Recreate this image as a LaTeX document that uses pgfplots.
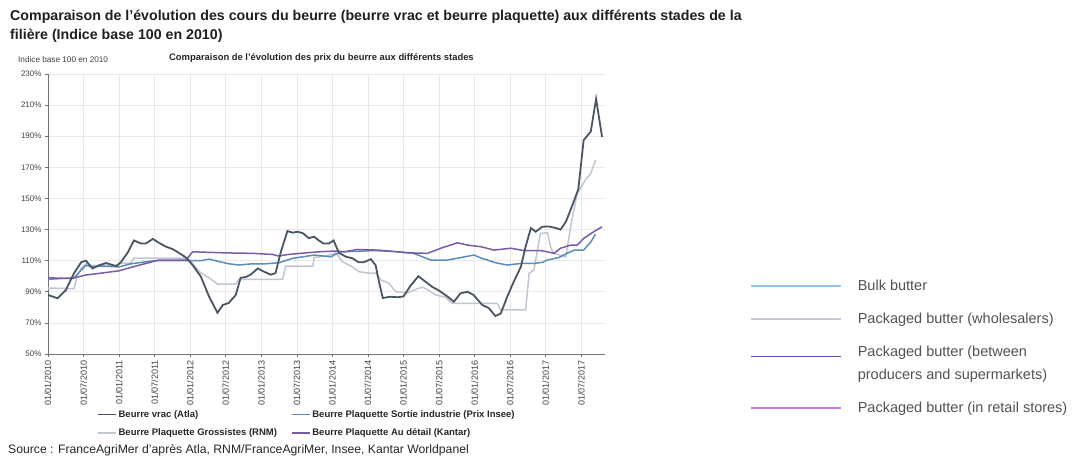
\documentclass[border=0pt]{standalone}
\usepackage{fontspec}
\setmainfont{Liberation Sans}
\usepackage{pgfplots}
\pgfplotsset{compat=1.18}
\definecolor{cvrac}{HTML}{4A5563}
\definecolor{cinsee}{HTML}{5B8DB8}
\definecolor{crnm}{HTML}{C0C6D2}
\definecolor{ckantar}{HTML}{7A5BA8}
\definecolor{lbulk}{HTML}{8CC3E6}
\definecolor{lwhole}{HTML}{C9C9D6}
\definecolor{lprod}{HTML}{5A4FA6}
\definecolor{lretail}{HTML}{C77FE3}
\begin{document}
\begin{tikzpicture}
\path[use as bounding box] (0pt,0pt) rectangle (1082pt,456pt);
\node[anchor=base west, inner sep=0pt, font=\bfseries\fontsize{14.2}{17}\selectfont, text=black!88] at (10pt,435pt) {Comparaison de l'évolution des cours du beurre (beurre vrac et beurre plaquette) aux différents stades de la};
\node[anchor=base west, inner sep=0pt, font=\bfseries\fontsize{14.2}{17}\selectfont, text=black!88] at (10pt,416pt) {filière (Indice base 100 en 2010)};
\node[anchor=base west, inner sep=0pt, font=\fontsize{8.2}{10}\selectfont, text=black!75] at (18pt,393pt) {Indice base 100 en 2010};
\node[anchor=base west, inner sep=0pt, font=\bfseries\fontsize{9.4}{11}\selectfont, text=black!85] at (169pt,395pt) {Comparaison de l'évolution des prix du beurre aux différents stades};
\node[anchor=base west, inner sep=0pt, font=\fontsize{12.2}{14}\selectfont, text=black!85] at (8pt,3pt) {Source : FranceAgriMer d'après Atla, RNM/FranceAgriMer, Insee, Kantar Worldpanel};

\begin{axis}[
  at={(48pt,102pt)}, anchor=south west,
  scale only axis, width=557pt, height=280pt,
  xmin=0, xmax=94, ymin=50, ymax=230,
  xtick={0,6,...,90},
  xticklabels={01/01/2010,01/07/2010,01/01/2011,01/07/2011,01/01/2012,01/07/2012,01/01/2013,01/07/2013,01/01/2014,01/07/2014,01/01/2015,01/07/2015,01/01/2016,01/07/2016,01/01/2017,01/07/2017},
  x tick label style={rotate=90, anchor=east, font=\fontsize{9}{10}\selectfont, text=black!75},
  ytick={50,70,...,230},
  yticklabels={50\%,70\%,90\%,110\%,130\%,150\%,170\%,190\%,210\%,230\%},
  y tick label style={font=\fontsize{8}{9}\selectfont, text=black!75},
  grid=major, major grid style={draw=black!9, line width=0.7pt},
  axis x line*=bottom, axis y line*=left,
  axis line style={draw=black!55, line width=0.9pt},
  tick style={draw=black!55, line width=0.6pt},
  major tick length=3pt, tick align=outside,
  legend columns=2,
  legend cell align=left,
  legend style={at={(0.088,-0.194)}, anchor=north west, draw=none, fill=none,
    inner sep=0pt,
    font=\bfseries\fontsize{9.5}{11}\selectfont, text=black!85,
    /tikz/every even column/.append style={column sep=12pt}, row sep=6pt},
  legend image code/.code={\draw[#1] (0pt,0pt) -- (18pt,0pt);},
]
\addlegendimage{cvrac, line width=1.4pt}
\addlegendentry{Beurre vrac (Atla)}
\addlegendimage{cinsee, line width=1.4pt}
\addlegendentry{Beurre Plaquette Sortie industrie (Prix Insee)}
\addlegendimage{crnm, line width=1.4pt}
\addlegendentry{Beurre Plaquette Grossistes (RNM)}
\addlegendimage{ckantar, line width=1.4pt}
\addlegendentry{Beurre Plaquette Au détail (Kantar)}

% Grossistes (RNM)
\addplot[crnm, line width=1.5pt, forget plot] coordinates {
(0,92.4)(4.4,92)(4.9,100)(5.6,105)(6.4,108)(7.3,107)(11.8,107)(12.3,108.5)(14,108.5)(14.5,111.7)(23.6,111.7)(25.8,102)(27.2,99)(28.6,95)(31.7,95)(32.2,98)(39.6,98)(40.1,106.5)(44.7,106.5)(44.9,112)(46.9,113)(48.6,115)(49.7,109.3)(51.4,106)(52.4,103)(54.1,102)(55.3,102)(56.2,97.5)(57.5,95.6)(58.7,90)(60.7,89.4)(61.7,91)(63.2,93)(64.2,91)(65.4,88)(67.1,86.4)(68.2,82.5)(75.8,82.5)(76.4,78.3)(80.6,78.3)(81.2,101.8)(82,104)(83.1,127.5)(84.3,128)(84.8,119)(85.3,114.7)(87.4,112.5)(88.2,132)(89.3,153)(90.7,162)(91.6,166)(92.4,174.7)
};
% Sortie industrie (Insee)
\addplot[cinsee, line width=1.5pt, forget plot] coordinates {
(0,98)(4.4,99)(5.6,104)(6.4,107)(7.5,106)(9,106.5)(12,106)(14,108)(18,110)(22,110)(25.8,110)(27.2,111)(29,109.3)(30.5,108)(32.2,107.2)(34.5,108)(36.8,108)(39,108.7)(41.3,111.5)(44.9,113.6)(47.7,112.5)(49.4,115.7)(52,116)(55,116.5)(58,116)(61.7,114.7)(64.6,110.4)(67.4,110.4)(71.9,113.6)(73.2,111.5)(74.2,110.4)(75.5,108.7)(77.5,107.2)(79.8,108.2)(82,108.2)(83.5,109)(84.3,110.4)(86.2,112)(87.6,114.7)(88.8,116.8)(90.4,116.8)(91.6,122)(92.4,127)
};
% Au detail (Kantar)
\addplot[ckantar, line width=1.5pt, forget plot] coordinates {
(0,99)(4,98.5)(6.4,100.8)(8.6,101.8)(12,103.5)(14.3,106)(16.5,108.2)(18.7,110.4)(23.3,110.4)(24.4,115.7)(30,115)(34.5,114.7)(37.9,114)(38.9,113)(40.6,114)(43.5,115)(45.7,115.7)(48.6,116.2)(50,115.7)(52.2,117.2)(55.6,116.8)(59,115.7)(61.2,115)(64,114.7)(66.3,118)(69.1,121.5)(70.8,120)(73,119)(75.3,116.8)(78.1,118)(80.3,116.5)(83.1,116.5)(84.3,115.7)(85.4,114.7)(86.5,118)(88.2,120)(89.3,120)(90.4,124.3)(92.1,128.6)(93.5,131.8)
};
% Vrac (Atla)
\addplot[cvrac, line width=1.8pt, forget plot] coordinates {
(0,88)(1.6,85.8)(3,91)(4.4,102)(5.6,109)(6.4,110)(7.5,105)(8.6,107)(9.8,108.5)(11.5,106.5)(12.3,109)(13.5,115.5)(14.5,123)(15.7,121)(16.5,121)(17.7,124)(18.7,121.5)(19.9,119)(21,117.5)(22.1,115)(23.3,112)(24.4,107.2)(25.8,99.7)(27.2,86.8)(28.6,76.5)(29.5,81.5)(30.5,82.8)(31.7,88)(32.5,99)(33.4,99.5)(34.2,101)(35.4,105)(36.4,103)(37.6,101)(38.4,102)(39.3,115.7)(40.4,129)(41.3,128)(42.1,128.6)(43,127.7)(44,124.5)(44.9,125.4)(45.7,123)(46.5,121)(47.4,121)(48.2,123)(49.1,115)(50.3,112.5)(51.4,111.5)(52.4,109)(53.3,109)(54.5,111)(55.3,107)(55.8,97.5)(56.5,86)(57.8,86.8)(59,86.5)(60,87)(61.2,94)(62.5,100)(63.7,96.5)(64.9,93)(65.9,91)(67.4,87)(68.5,83.6)(69.6,89)(70.8,90)(71.8,88)(73.3,81.5)(74.4,79.5)(75.5,74.4)(76.4,76)(77.5,86.8)(78.6,96.5)(79.8,106)(80.6,119)(81.5,131)(82.3,128.6)(83.4,131.8)(84.5,132)(85.7,131)(86.5,130)(87.4,135)(88.5,145.7)(89.5,156)(90.4,187.5)(91.6,193)(92.5,214)(93.5,189.6)
};
\end{axis}

\begin{axis}[
  at={(750pt,178pt)}, anchor=north west,
  scale only axis, width=300pt, height=140pt,
  hide axis, xmin=0, xmax=1, ymin=0, ymax=1,
  legend cell align=left,
  legend style={at={(0,1)}, anchor=north west, draw=none, fill=none,
    inner sep=0pt, outer sep=0pt,
    font=\fontsize{14.5}{23}\selectfont, text=black!68,
    nodes={align=left},
    /tikz/every odd column/.append style={column sep=14pt}, row sep=17pt},
  legend image code/.code={\draw[#1] (0pt,0pt) -- (90pt,0pt);},
]
\addlegendimage{lbulk, line width=1.6pt}
\addlegendentry{Bulk butter}
\addlegendimage{lwhole, line width=1.6pt}
\addlegendentry{Packaged butter (wholesalers)}
\addlegendimage{lprod, line width=1.8pt, yshift=7pt}
\addlegendentry{Packaged butter (between\\producers and supermarkets)}
\addlegendimage{lretail, line width=1.6pt}
\addlegendentry{Packaged butter (in retail stores)}
\end{axis}
\end{tikzpicture}
\end{document}
